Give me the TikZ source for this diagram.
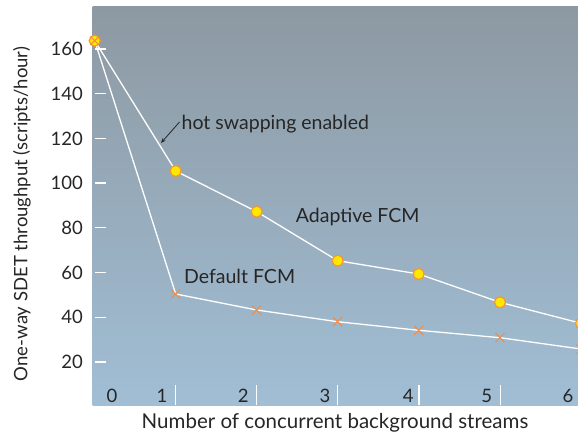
\documentclass[tikz,border=0pt]{standalone}
\usepackage{fontspec}
\setmainfont{Lato}
\usetikzlibrary{arrows.meta}
\definecolor{bgtop}{RGB}{141,153,162}
\definecolor{bgbot}{RGB}{161,190,213}
\definecolor{txt}{RGB}{38,38,38}
\definecolor{mkfill}{RGB}{255,232,0}
\definecolor{mkring}{RGB}{245,150,50}
\definecolor{xmark}{RGB}{240,140,70}
\tikzset{
  lbl/.style={text=txt, font=\fontsize{18.5}{20}\selectfont, inner sep=0pt},
  dataline/.style={white, line width=1.3pt},
  tickline/.style={white, line width=1.4pt},
  adot/.style={circle, fill=mkfill, draw=mkring, line width=1.2pt, minimum size=11pt, inner sep=0pt},
  xm/.style={xmark, line width=1pt},
}
\begin{document}
\begin{tikzpicture}[x=1pt,y=-1pt]
\useasboundingbox (0,0) rectangle (578,438);
\fill[white] (0,0) rectangle (578,438);
\shade[top color=bgtop, bottom color=bgbot] (92.7,6.7) rectangle (578,405);
% y ticks
\foreach \v in {20,40,...,160} {
  \pgfmathsetmacro{\yy}{49+(160-\v)*2.235}
  \draw[tickline] (95,\yy) -- (106,\yy);
  \node[lbl, anchor=east] at (83,\yy) {\v};
}
% x ticks
\foreach \n in {1,...,5} {
  \pgfmathsetmacro{\xx}{175.7+(\n-1)*81.1}
  \draw[tickline, line width=1.1pt] (\xx,385) -- (\xx,405);
}
\node[lbl] (x0) at (112,396) {0};
\node[lbl] (x1) at (162,396) {1};
\node[lbl] (x2) at (243.3,396) {2};
\node[lbl] (x3) at (325,396) {3};
\node[lbl] (x4) at (408.3,396) {4};
\node[lbl] (x5) at (486.7,396) {5};
\node[lbl] (x6) at (568,396) {6};
\node[lbl, font=\fontsize{20.5}{22}\selectfont] (xt) at (335,423) {Number of concurrent background streams};
\node[lbl, rotate=90] (yt) at (22,214) {One-way SDET throughput (scripts/hour)};
% data points
\coordinate (a0) at (94.7,40.7);
\coordinate (a1) at (175.7,171);
\coordinate (a2) at (256.7,211.7);
\coordinate (a3) at (337.7,260.7);
\coordinate (a4) at (418.7,274);
\coordinate (a5) at (500,302.3);
\coordinate (a6) at (581,323.3);
\coordinate (d1) at (175.7,294);
\coordinate (d2) at (256.7,310);
\coordinate (d3) at (337.5,321.7);
\coordinate (d4) at (418.7,330.3);
\coordinate (d5) at (500,337.7);
\coordinate (d6) at (581,349);
\begin{scope}
\clip (0,0) rectangle (578,438);
\draw[dataline] (a0) -- (a1) -- (a2) -- (a3) -- (a4) -- (a5) -- (a6);
\draw[dataline] (a0) -- (d1) -- (d2) -- (d3) -- (d4) -- (d5) -- (d6);
\foreach \p in {d1,d2,d3,d4,d5,d6} {
  \draw[xm] ([shift={(-4.5,-4.5)}]\p) -- ([shift={(4.5,4.5)}]\p) ([shift={(-4.5,4.5)}]\p) -- ([shift={(4.5,-4.5)}]\p);
}
\foreach \p in {a0,a1,a2,a3,a4,a5,a6} {
  \node[adot] at (\p) {};
}
\draw[xm] ([shift={(-4,-4)}]a0) -- ([shift={(4,4)}]a0) ([shift={(-4,4)}]a0) -- ([shift={(4,-4)}]a0);
\end{scope}
% labels
\node[lbl, font=\fontsize{19.5}{21}\selectfont, anchor=west] (hot) at (181.5,124) {hot swapping enabled};
\coordinate (hottip) at (161,143);
\draw[txt, line width=0.8pt, -{Stealth[length=5pt,width=4pt]}] ([xshift=-2pt,yshift=2pt]hot.west) -- (hottip);
\node[lbl, font=\fontsize{19.5}{21}\selectfont, anchor=west] (ad) at (295.7,216.7) {Adaptive FCM};
\node[lbl, font=\fontsize{19.5}{21}\selectfont, anchor=west] (df) at (184,276) {Default FCM};
\end{tikzpicture}
\end{document}
